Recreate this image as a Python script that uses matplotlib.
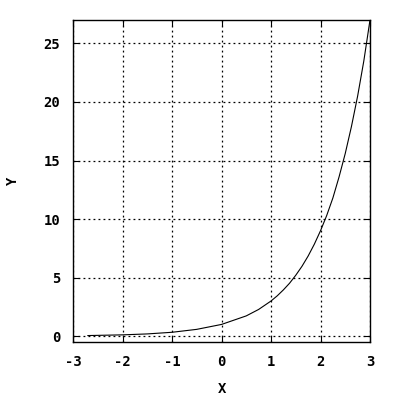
import matplotlib
matplotlib.use("Agg")
import matplotlib.pyplot as plt

# values
x_vals = [-2.7, -2.0, -1.5, -1.0, -0.5, 0.0, 0.5, 0.75, 1.0, 1.125, 1.25, 1.375, 1.5,
          1.625, 1.75, 1.875, 2.0, 2.125, 2.25, 2.375, 2.5, 2.625, 2.75, 2.875, 3.0]
y_vals = [0.05, 0.11, 0.19, 0.33, 0.58, 1.0, 1.73, 2.28, 3.0, 3.44, 3.95, 4.52, 5.2,
          5.96, 6.84, 7.85, 9.0, 10.3, 11.8, 13.6, 15.6, 17.9, 20.5, 23.5, 27.0]
x_ticks = [-3, -2, -1, 0, 1, 2, 3]
y_ticks = [0, 5, 10, 15, 20, 25]

plt.rcParams['font.family'] = ['DejaVu Sans Mono']
plt.rcParams['font.weight'] = 'bold'
plt.rcParams['axes.unicode_minus'] = False

fig = plt.figure(figsize=(4, 4), dpi=100)
ax = fig.add_axes([0.1825, 0.145, 0.7425, 0.805])

ax.plot(x_vals, y_vals, color='black', linewidth=0.8)

ax.set_xlim(-3, 3)
ax.set_ylim(-0.5, 27)
ax.set_xticks(x_ticks)
ax.set_yticks(y_ticks)
ax.grid(True, color='black', linestyle=(0, (1.5, 2.5)), linewidth=0.9)
ax.tick_params(direction='in', length=4, top=True, right=True, labelsize=10, pad=9)
for s in ax.spines.values():
    s.set_linewidth(1.0)

ax.set_xlabel('X', fontsize=10, fontweight='bold', labelpad=10)
ax.set_ylabel('Y', fontsize=10, fontweight='bold', labelpad=17)

fig.savefig('out.png', dpi=100)
